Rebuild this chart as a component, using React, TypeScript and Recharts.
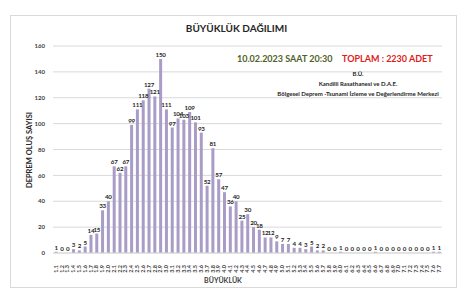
import { Bar, BarChart, CartesianGrid, LabelList, XAxis, YAxis } from 'recharts';

const magnitudes = [
  '1.1', '1.2', '1.3', '1.4', '1.5', '1.6', '1.7', '1.8', '1.9', '2.0',
  '2.1', '2.2', '2.3', '2.4', '2.5', '2.6', '2.7', '2.8', '2.9', '3.0',
  '3.1', '3.2', '3.3', '3.4', '3.5', '3.6', '3.7', '3.8', '3.9', '4.0',
  '4.1', '4.2', '4.3', '4.4', '4.5', '4.6', '4.7', '4.8', '4.9', '5.0',
  '5.1', '5.2', '5.3', '5.4', '5.5', '5.6', '5.7', '5.8', '5.9', '6.0',
  '6.1', '6.2', '6.3', '6.4', '6.5', '6.6', '6.7', '6.8', '6.9', '7.0',
  '7.1', '7.2', '7.3', '7.4', '7.5', '7.6', '7.7',
];

const counts = [
  1, 0, 0, 3, 2, 5, 14, 15, 33, 40,
  67, 62, 67, 99, 111, 118, 127, 121, 150, 111,
  97, 104, 103, 109, 101, 93, 52, 81, 57, 47,
  36, 40, 25, 30, 20, 18, 12, 12, 9, 7,
  7, 4, 4, 3, 5, 2, 2, 0, 0, 1,
  0, 0, 0, 0, 0, 1, 0, 0, 0, 0,
  0, 0, 0, 0, 0, 1, 1,
];

const yTicks = [0, 20, 40, 60, 80, 100, 120, 140, 160];

const data = magnitudes.map((m, i) => ({ m, count: counts[i] }));

const font = 'Lato, "Open Sans", sans-serif';

function MagTick({ x, y, payload }: any) {
  return (
    <text
      x={x}
      y={y + 4}
      transform={`rotate(-90, ${x}, ${y + 4})`}
      textAnchor="end"
      dy="0.35em"
      fontSize={5.5}
      fontWeight={700}
      fill="#404040"
      fontFamily={font}
    >
      {payload.value}
    </text>
  );
}

export default function App() {
  return (
    <div style={{ position: 'absolute', left: 0, top: 0, width: 473, height: 302, background: '#fff', fontFamily: font }}>
      <div style={{ position: 'absolute', left: 10, top: 15, width: 445, height: 271, border: '1px solid #d9d9d9' }} />
      <BarChart width={473} height={302} data={data} margin={{ top: 46, right: 31, bottom: 0, left: 0 }} barCategoryGap="28%">
        <CartesianGrid vertical={false} stroke="#d9d9d9" />
        <XAxis
          dataKey="m"
          interval={0}
          height={49}
          tickLine={false}
          axisLine={{ stroke: '#d9d9d9' }}
          tick={<MagTick />}
        />
        <YAxis
          width={53}
          domain={[0, 160]}
          ticks={yTicks}
          tickLine={false}
          axisLine={false}
          tickSize={0}
          tickMargin={8}
          tick={{ fontSize: 6, fontWeight: 700, fill: '#404040', fontFamily: font }}
        />
        <Bar dataKey="count" fill="#a99cc7" minPointSize={0.01} isAnimationActive={false}>
          <LabelList dataKey="count" position="top" offset={2} fontSize={6.2} fontWeight={700} fill="#262626" fontFamily={font} letterSpacing={-0.2} />
        </Bar>
      </BarChart>
      <div style={{ position: 'absolute', left: 0, width: 473, top: 21, textAlign: 'center', fontSize: 10, fontWeight: 700, color: '#262626', lineHeight: '14px' }}>
        BÜYÜKLÜK DAĞILIMI
      </div>
      <div style={{ position: 'absolute', left: 237, top: 53, fontSize: 9, fontWeight: 700, color: '#4f6228', lineHeight: '12px', whiteSpace: 'nowrap' }}>
        10.02.2023 SAAT 20:30
      </div>
      <div style={{ position: 'absolute', left: 342, top: 53, fontSize: 9, fontWeight: 700, color: '#e01b1b', lineHeight: '12px', whiteSpace: 'nowrap' }}>
        TOPLAM : 2230 ADET
      </div>
      <div style={{ position: 'absolute', left: 238, width: 240, top: 69, textAlign: 'center', fontSize: 6, fontWeight: 700, color: '#262626', lineHeight: '10px' }}>
        <div>B.Ü.</div>
        <div>Kandilli Rasathanesi ve D.A.E.</div>
        <div>Bölgesel Deprem -Tsunami İzleme ve Değerlendirme Merkezi</div>
      </div>
      <div style={{ position: 'absolute', left: 183, width: 80, top: 275, textAlign: 'center', fontSize: 7, fontWeight: 700, color: '#404040', lineHeight: '10px' }}>
        BÜYÜKLÜK
      </div>
      <div style={{ position: 'absolute', left: 30, top: 150, transform: 'translate(-50%, -50%) rotate(-90deg)', fontSize: 7.5, fontWeight: 700, color: '#262626', whiteSpace: 'nowrap', lineHeight: '10px' }}>
        DEPREM OLUŞ SAYISI
      </div>
    </div>
  );
}
